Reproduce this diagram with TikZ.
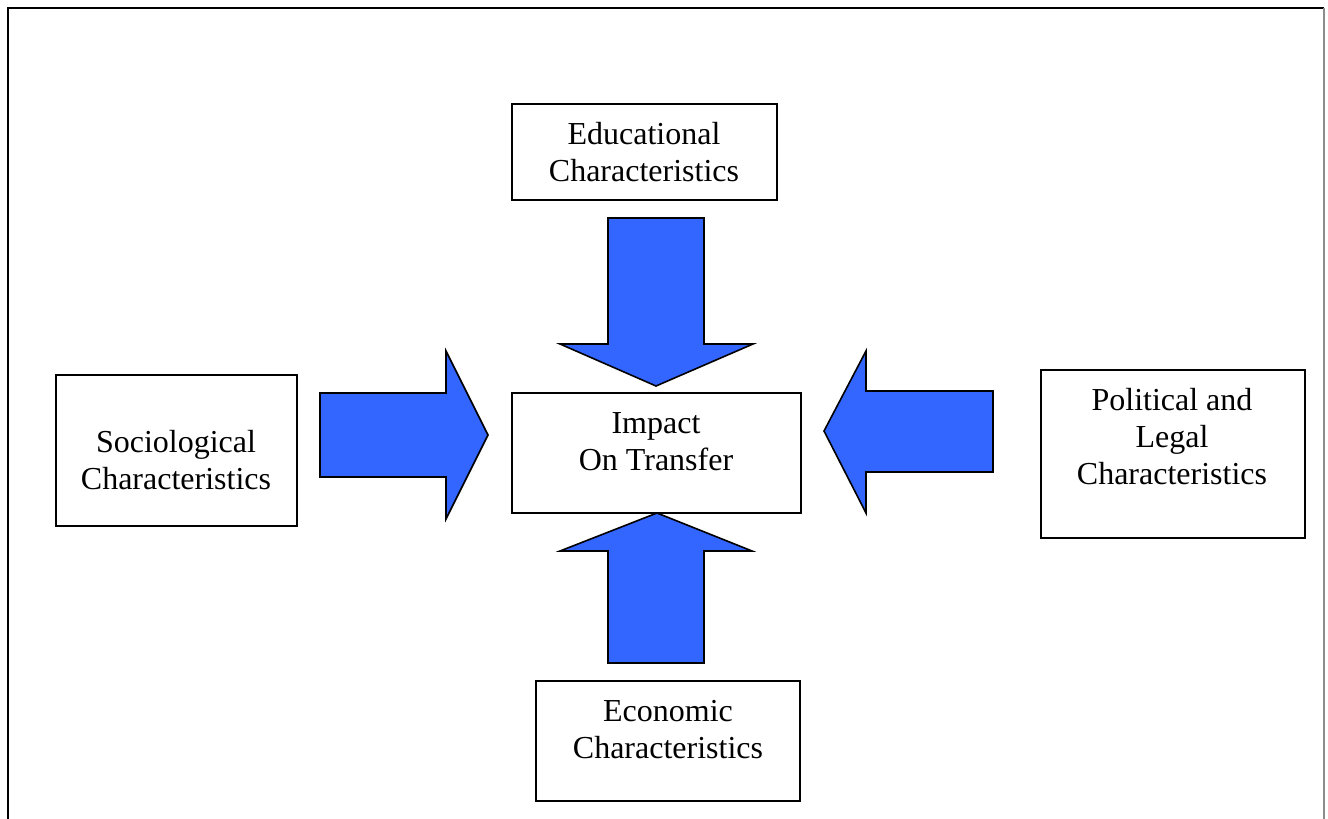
\documentclass[tikz,border=0pt]{standalone}
\usepackage{fontspec}
\setmainfont{Liberation Serif}
\begin{document}
\begin{tikzpicture}[x=0.5pt,y=-0.5pt,
  box/.style={draw=black,line width=0.8pt,fill=white,rectangle,inner sep=0pt},
  label/.style={inner sep=0pt,align=center,font=\fontsize{16}{18.5}\selectfont},
  blockarrow/.style={draw=black,line width=0.8pt,fill=arrowblue,line join=miter}]
\definecolor{arrowblue}{HTML}{3366FF}
\useasboundingbox (0,0) rectangle (1328,819);
% page frame, open at the bottom
\draw[line width=1.1pt,black] (8,819) -- (8,8) -- (1324,8);
\draw[line width=0.6pt,black!45] (1324,8) -- (1324,819);

% boxes
\node[box,minimum width=265*0.5pt,minimum height=96*0.5pt] (edubox) at (644.5,152) {};
\node[box,minimum width=289*0.5pt,minimum height=120*0.5pt] (impbox) at (656.5,453) {};
\node[box,minimum width=241*0.5pt,minimum height=151*0.5pt] (socbox) at (176.5,450.5) {};
\node[box,minimum width=264*0.5pt,minimum height=168*0.5pt] (polbox) at (1173,454) {};
\node[box,minimum width=264*0.5pt,minimum height=120*0.5pt] (ecobox) at (668,741) {};

% texts
\node[label] (edutext) at (644,152) {Educational\\Characteristics};
\node[label] (imptext) at (656,442) {Impact\\On Transfer};
\node[label] (soctext) at (176,460) {Sociological\\Characteristics};
\node[label] (poltext) at (1172,437) {Political and\\Legal\\Characteristics};
\node[label] (ecotext) at (668,730) {Economic\\Characteristics};

% block arrows pointing at the centre box
\draw[blockarrow] (608,218) -- (704,218) -- (704,344) -- (753,344) -- (656,386)
  -- (560,344) -- (608,344) -- cycle;
\draw[blockarrow] (608,663) -- (704,663) -- (704,551) -- (752,551) -- (657,513)
  -- (560,551) -- (608,551) -- cycle;
\draw[blockarrow] (320,393) -- (446,393) -- (446,351) -- (488,435) -- (446,519)
  -- (446,477) -- (320,477) -- cycle;
\draw[blockarrow] (993,391) -- (866,391) -- (866,351) -- (824,431) -- (866,513)
  -- (866,472) -- (993,472) -- cycle;
\end{tikzpicture}
\end{document}
